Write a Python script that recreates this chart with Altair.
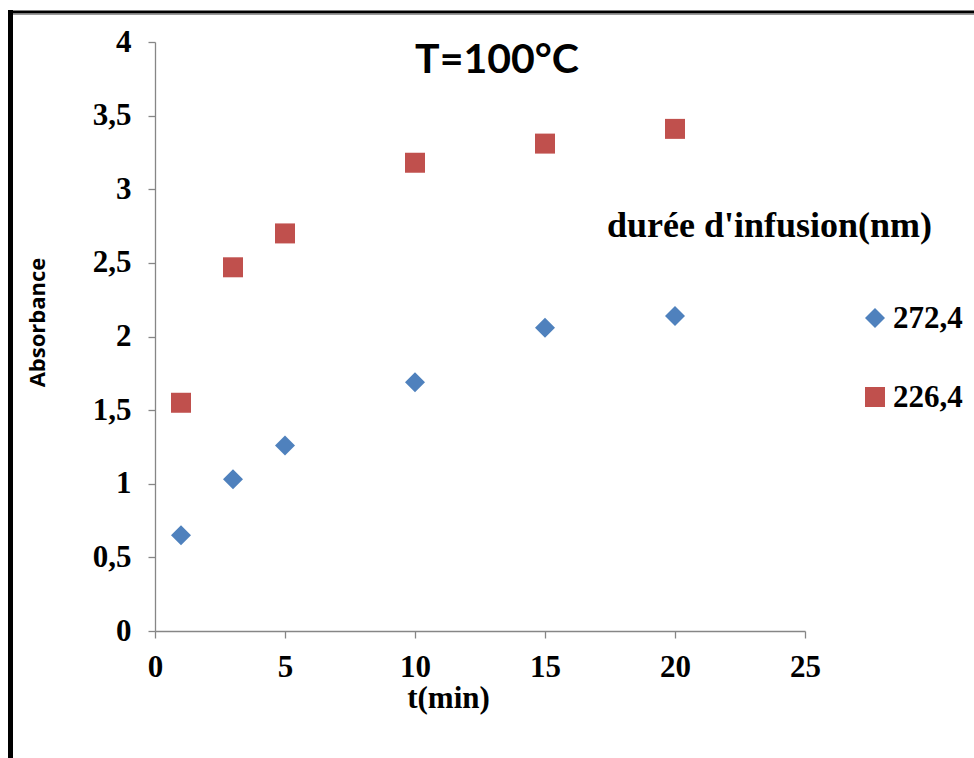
import altair as alt
import pandas as pd

# Data
times = [1, 3, 5, 10, 15, 20]
abs_272 = [0.65, 1.03, 1.26, 1.69, 2.06, 2.14]
abs_226 = [1.55, 2.47, 2.70, 3.18, 3.31, 3.41]
series_names = ["272,4", "226,4"]
series_colors = ["#4F81BD", "#C0504D"]
series_shapes = ["diamond", "square"]
chart_title = "T=100°C"
legend_title = "durée d'infusion(nm)"
x_title = "t(min)"
y_title = "Absorbance"

rows = []
for t, a in zip(times, abs_272):
    rows.append({"t": t, "A": a, "s": series_names[0]})
for t, a in zip(times, abs_226):
    rows.append({"t": t, "A": a, "s": series_names[1]})
df = pd.DataFrame(rows)

W, H = 650, 589
PL, PT = 155, 42

color_scale = alt.Scale(domain=series_names, range=series_colors)
shape_scale = alt.Scale(domain=series_names, range=series_shapes)

points = alt.Chart(df).mark_point(filled=True, size=400, opacity=1, strokeWidth=1).encode(
    x=alt.X("t:Q", scale=alt.Scale(domain=[0, 25], nice=False),
            axis=alt.Axis(values=[0, 5, 10, 15, 20, 25], title=x_title, labelFlush=False,
                          labelPadding=14,
                          titleX=293, titleY=52, titleBaseline="top")),
    y=alt.Y("A:Q", scale=alt.Scale(domain=[0, 4], nice=False),
            axis=alt.Axis(values=[0, 0.5, 1, 1.5, 2, 2.5, 3, 3.5, 4], title=y_title,
                          labelFlush=False, labelPadding=17,
                          labelExpr="replace(format(datum.value, '~g'), '.', ',')",
                          titleX=-118, titleY=280, titleAngle=270,
                          titleAlign="center", titleBaseline="middle",
                          titleFont="Open Sans", titleFontSize=22, titleFontWeight="bold")),
    color=alt.Color("s:N", scale=color_scale, legend=None),
    shape=alt.Shape("s:N", scale=shape_scale, legend=None),
)

# Legend drawn as layered marks (symbols use the same color/shape scales)
leg_items = pd.DataFrame({"s": series_names})
legend_layers = []
for name, ypos in zip(series_names, [276, 355]):
    base = alt.Chart(leg_items).transform_filter(alt.datum.s == name)
    legend_layers.append(
        base.mark_point(filled=True, size=400, opacity=1).encode(
            x=alt.value(720), y=alt.value(ypos),
            color=alt.Color("s:N", scale=color_scale, legend=None),
            shape=alt.Shape("s:N", scale=shape_scale, legend=None),
        )
    )
    legend_layers.append(
        base.mark_text(font="Liberation Serif", fontWeight="bold", fontSize=31, color="black",
                       align="left", baseline="middle", dy=1).encode(
            text="s:N", x=alt.value(738), y=alt.value(ypos),
        )
    )

title_df = pd.DataFrame({"txt": [chart_title]})
title_mark = alt.Chart(title_df).mark_text(
    font="Lato", fontWeight="bold", fontSize=41, color="black", align="center", baseline="middle"
).encode(text="txt:N", x=alt.value(342), y=alt.value(19))

leg_df = pd.DataFrame({"txt": [legend_title]})
leg_title = alt.Chart(leg_df).mark_text(
    font="Liberation Serif", fontWeight="bold", fontSize=36, color="black", align="left", baseline="middle"
).encode(text="txt:N", x=alt.value(452), y=alt.value(184))

frame_left = alt.Chart(title_df).mark_rule(color="black", strokeWidth=5).encode(
    x=alt.value(10.5 - PL), y=alt.value(10 - PT), y2=alt.value(758 - PT + 5))
frame_top = alt.Chart(title_df).mark_rule(color="black", strokeWidth=3).encode(
    x=alt.value(8 - PL), x2=alt.value(974 - PL + 5), y=alt.value(12 - PT))
frame_shadow = alt.Chart(title_df).mark_rule(color="#9a9a9a", strokeWidth=1).encode(
    x=alt.value(13 - PL), x2=alt.value(974 - PL + 5), y=alt.value(14.5 - PT))

chart = alt.layer(frame_shadow, frame_top, frame_left, points, title_mark, leg_title,
                  *legend_layers).properties(
    width=W, height=H,
    autosize=alt.AutoSizeParams(type="none"),
    padding={"left": PL, "top": PT, "right": 974 - PL - W, "bottom": 758 - PT - H},
    background="white",
).configure_view(stroke=None).configure_axis(
    grid=False, domainColor="#868686", tickColor="#868686", domainWidth=1.3, tickWidth=1.3,
    tickSize=7, labelFont="Liberation Serif", labelFontWeight="bold", labelFontSize=31,
    labelColor="black", titleFont="Liberation Serif", titleFontWeight="bold",
    titleFontSize=31, titleColor="black",
)

chart.save("out.html", embed_options={"renderer": "svg", "actions": False})
